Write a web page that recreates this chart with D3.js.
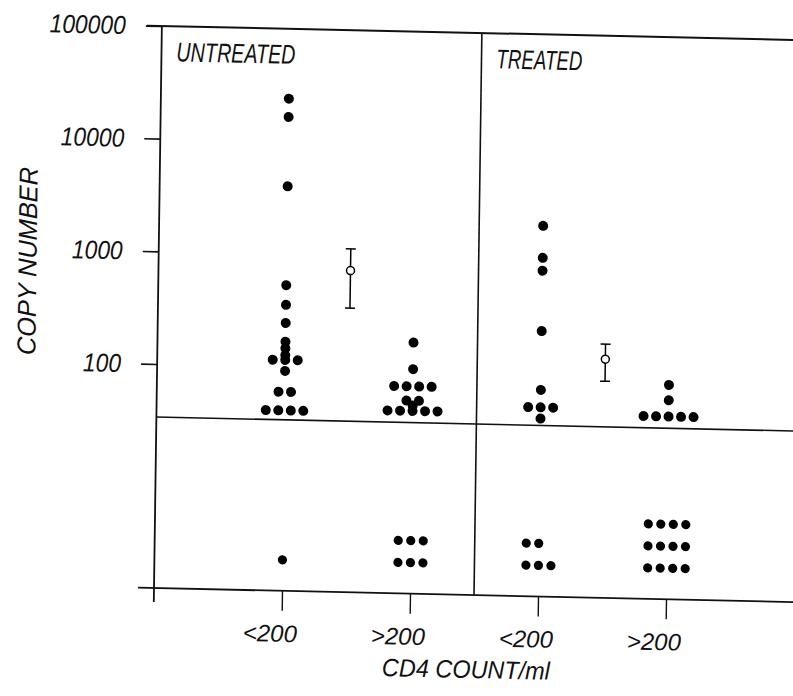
<!DOCTYPE html>
<html>
<head>
<meta charset="utf-8">
<script src="https://cdn.jsdelivr.net/npm/d3@7/dist/d3.min.js"></script>
<style>
  body { margin: 0; background: #fff; }
  text { font-family: "Liberation Sans", Arial, sans-serif; font-style: italic; fill: #111; }
</style>
</head>
<body>
<svg id="chart" width="793" height="696"></svg>
<script>
// ---------- data ----------
const categories = ["<200", ">200", "<200", ">200"];
const panels = ["UNTREATED", "TREATED"];
const yTickValues = [100, 1000, 10000, 100000];

// detectable copy numbers, one array per column
const untreatedBelow200 = [24000, 16500, 4000, 530, 355, 245, 167, 146, 127, 115, 115, 115, 92, 60, 60, 41, 41, 41, 41];
const untreatedAbove200 = [174, 101, 71, 71, 71, 71, 53, 53, 48, 43, 43, 43, 43, 43];
const treatedBelow200   = [2000, 1040, 800, 233, 70, 49, 49, 49, 39];
const treatedAbove200   = [82, 60, 43, 43, 43, 43, 43];

// number of samples below detection (lower panel), per column
const undetectableCounts = [1, 6, 5, 12];

// means with error bars (untreated, treated)
const meanValues = [735, 135];
const meanLower  = [341, 86];
const meanUpper  = [1145, 184];

// ---------- drawing ----------
const svg = d3.select("#chart");
// the scanned figure is slightly rotated/sheared
const g = svg.append("g")
  .attr("transform", "translate(154,588) matrix(1,0.022,-0.014,1,0,0) translate(-154,-588)");

const x = d3.scaleLinear().domain([0, 5]).range([154, 794]);
const y = d3.scaleLog().domain([100, 100000]).range([364, 26]);
const lowerRow = d3.scaleLinear().domain([0, 1]).range([557, 535]);
const xDivider = x(2.5);
const yDivider = 417;
const axisColor = "#111";

// frame lines
g.append("line").attr("x1", 139).attr("x2", 800).attr("y1", y(100000)).attr("y2", y(100000))
  .attr("stroke", axisColor).attr("stroke-width", 2);
g.append("line").attr("x1", x(0)).attr("x2", x(0)).attr("y1", y(100000)).attr("y2", 602)
  .attr("stroke", axisColor).attr("stroke-width", 1.8);
g.append("line").attr("x1", 138).attr("x2", 800).attr("y1", 588).attr("y2", 588)
  .attr("stroke", axisColor).attr("stroke-width", 1.8);
g.append("line").attr("x1", xDivider).attr("x2", xDivider).attr("y1", y(100000)).attr("y2", 588)
  .attr("stroke", axisColor).attr("stroke-width", 1.6);
g.append("line").attr("x1", x(0)).attr("x2", 800).attr("y1", yDivider).attr("y2", yDivider)
  .attr("stroke", axisColor).attr("stroke-width", 1.6);

// y axis
const yAxis = g.append("g").attr("transform", `translate(${x(0)},0)`)
  .call(d3.axisLeft(y).tickValues(yTickValues).tickSize(16).tickPadding(20).tickFormat(d3.format("d")));
yAxis.select(".domain").remove();
yAxis.selectAll(".tick line").attr("stroke", axisColor).attr("stroke-width", 1.6);
yAxis.selectAll(".tick text")
  .attr("font-size", 26).attr("font-family", null).attr("fill", "#111")
  .each(function () {
    const w = this.getComputedTextLength();
    d3.select(this).attr("textLength", w * 0.88).attr("lengthAdjust", "spacingAndGlyphs");
  });

// x axis
const xAxis = g.append("g").attr("transform", "translate(0,588)")
  .call(d3.axisBottom(x).tickValues([1, 2, 3, 4]).tickSize(20).tickPadding(14)
    .tickFormat(i => categories[i - 1]));
xAxis.select(".domain").remove();
xAxis.selectAll(".tick line").attr("stroke", axisColor).attr("stroke-width", 1.4);
xAxis.selectAll(".tick text")
  .attr("font-size", 24).attr("font-family", null).attr("fill", "#111").attr("dx", -12);

// panel titles
g.append("text").attr("x", x(0) + 15).attr("y", 61).attr("font-size", 27)
  .attr("textLength", 119).attr("lengthAdjust", "spacingAndGlyphs").text(panels[0]);
g.append("text").attr("x", xDivider + 15).attr("y", 61).attr("font-size", 27)
  .attr("textLength", 86).attr("lengthAdjust", "spacingAndGlyphs").text(panels[1]);

// axis titles
g.append("text").attr("x", 467).attr("y", 671).attr("font-size", 25)
  .attr("text-anchor", "middle").attr("textLength", 168).attr("lengthAdjust", "spacingAndGlyphs")
  .text("CD4 COUNT/ml");
g.append("text").attr("transform", "translate(32,264) rotate(-90)").attr("font-size", 26)
  .attr("text-anchor", "middle").attr("textLength", 188).attr("lengthAdjust", "spacingAndGlyphs")
  .text("COPY NUMBER");

// detectable dots: identical values placed side by side
const columns = [untreatedBelow200, untreatedAbove200, treatedBelow200, treatedAbove200];
const step = 12.5;
function dodge(values, cx) {
  const counts = d3.rollup(values, v => v.length, d => d);
  const seen = new Map();
  return values.map(v => {
    const n = counts.get(v), k = seen.get(v) || 0;
    seen.set(v, k + 1);
    return { v, cx: cx + (k - (n - 1) / 2) * step };
  });
}
columns.forEach((vals, i) => {
  g.append("g").selectAll("circle").data(dodge(vals, x(i + 1))).join("circle")
    .attr("cx", d => d.cx).attr("cy", d => y(d.v)).attr("r", 5).attr("fill", "#000");
});

// undetectable dots: stacked grid from the bottom
undetectableCounts.forEach((n, i) => {
  const perRow = Math.ceil(Math.sqrt(n));
  const pts = d3.range(n).map(k => ({ row: Math.floor(k / perRow), col: k % perRow }));
  g.append("g").selectAll("circle").data(pts).join("circle")
    .attr("cx", d => x(i + 1) + (d.col - (perRow - 1) / 2) * step)
    .attr("cy", d => lowerRow(d.row)).attr("r", 4.6).attr("fill", "#000");
});

// means with error bars
meanValues.forEach((m, i) => {
  const cx = x(1.5 + 2 * i);
  const eg = g.append("g").attr("stroke", "#000").attr("stroke-width", 1.5);
  eg.append("line").attr("x1", cx).attr("x2", cx).attr("y1", y(meanUpper[i])).attr("y2", y(meanLower[i]));
  eg.append("line").attr("x1", cx - 5).attr("x2", cx + 5).attr("y1", y(meanUpper[i])).attr("y2", y(meanUpper[i]));
  eg.append("line").attr("x1", cx - 5).attr("x2", cx + 5).attr("y1", y(meanLower[i])).attr("y2", y(meanLower[i]));
  eg.append("circle").attr("cx", cx).attr("cy", y(m)).attr("r", 4).attr("fill", "#fff");
});
</script>
</body>
</html>
